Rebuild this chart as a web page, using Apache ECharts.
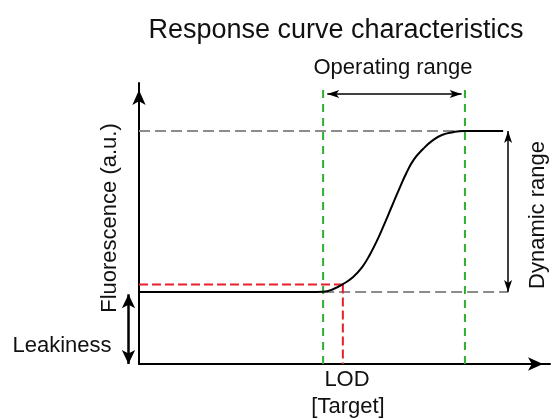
<!DOCTYPE html>
<html>
<head>
<meta charset="utf-8">
<script src="https://cdn.jsdelivr.net/npm/echarts@6/dist/echarts.min.js"></script>
<style>
  html, body { margin: 0; padding: 0; background: #fff; }
  #chart { width: 553px; height: 419px; }
</style>
</head>
<body>
<div id="chart"></div>
<script>
// response curve (arbitrary units, x: [Target], y: fluorescence)
const curveX = [0, 4.16, 4.48, 4.72, 4.96, 5.21, 5.43, 5.62, 5.82, 5.99, 6.16, 6.33, 6.50, 6.69, 6.91, 7.13, 7.37, 7.64, 7.91, 8.86];
const curveY = [2.56, 2.56, 2.57, 2.66, 2.84, 3.10, 3.45, 3.90, 4.48, 5.05, 5.64, 6.22, 6.78, 7.28, 7.65, 7.94, 8.15, 8.25, 8.29, 8.29];

// guide values
const baseline = 2.56;     // leakiness level
const plateau = 8.29;      // saturation level
const lod = 4.96;          // limit of detection
const lodSignal = 2.83;
const opRange = [4.48, 7.93];
const guideTop = 9.79;
const opArrowY = 9.61;
const dynArrowX = 8.98;

const font = '"Liberation Sans", Arial, sans-serif';

let dashed = (name, pts, color, dash) => ({
	name: name,
	type: 'line',
	data: pts,
	symbol: 'none',
	silent: true,
	clip: false,
	lineStyle: { color: color, width: 2, type: dash }
});

// double headed arrow between two data points
let arrow = (from, to) => [{ coord: from }, { coord: to }];

let arrowStyle = (head, width) => ({
	silent: true,
	animation: false,
	symbol: ['arrow', 'arrow'],
	symbolSize: head,
	lineStyle: { color: '#000', width: width, type: 'solid' },
	label: { show: false },
	emphasis: { disabled: true }
});

let txt = (text, x, y, size, rot) => ({
	type: 'text',
	x: x,
	y: y,
	rotation: rot || 0,
	style: {
		text: text,
		font: size + 'px ' + font,
		fill: '#111',
		textAlign: 'center',
		textVerticalAlign: 'middle',
		align: 'center',
		verticalAlign: 'middle'
	}
});

let hiddenAxis = (idx, max) => ({
	type: 'value', gridIndex: idx, min: 0, max: max, show: false
});

let chart = echarts.init(document.getElementById('chart'), null, { renderer: 'canvas' });

let option = {
	animation: false,
	backgroundColor: '#fff',
	grid: [
		{ left: 139, right: 3, top: 83, bottom: 55, containLabel: false },
		// narrow strip left of the y axis for the leakiness arrow
		{ left: 118.5, width: 20, top: 83, bottom: 55, containLabel: false }
	],
	xAxis: [{
		type: 'value', min: 0, max: 10,
		axisLine: { show: true, symbol: ['none', 'arrow'], symbolSize: [10, 15], symbolOffset: [0, -7], lineStyle: { color: '#000', width: 2 } },
		axisTick: { show: false }, axisLabel: { show: false }, splitLine: { show: false }
	}, hiddenAxis(1, 1)],
	yAxis: [{
		type: 'value', min: 0, max: 10,
		axisLine: { show: true, symbol: ['none', 'arrow'], symbolSize: [10, 15], symbolOffset: [0, -7], lineStyle: { color: '#000', width: 2 } },
		axisTick: { show: false }, axisLabel: { show: false }, splitLine: { show: false }
	}, hiddenAxis(1, 10)],
	series: [
		dashed('top', [[0, plateau], [opRange[1], plateau]], '#8c8c8c', [11, 5]),
		dashed('bottom', [[opRange[0], baseline], [dynArrowX, baseline]], '#8c8c8c', [11, 5]),
		dashed('lodH', [[0, lodSignal], [lod, lodSignal]], '#e8202a', [9, 4]),
		dashed('lodV', [[lod, lodSignal], [lod, 0]], '#e8202a', [9, 4]),
		dashed('opLow', [[opRange[0], 0], [opRange[0], guideTop]], '#2eae2e', [8, 6]),
		dashed('opHigh', [[opRange[1], 0], [opRange[1], guideTop]], '#2eae2e', [8, 6]),
		{
			name: 'response',
			type: 'line',
			data: curveX.map((x, i) => [x, curveY[i]]),
			symbol: 'none',
			smooth: 0.5,
			clip: false,
			lineStyle: { color: '#000', width: 2 },
			markLine: Object.assign(arrowStyle([6, 12], 1.5), {
				data: [
					arrow([opRange[0] + 0.1, opArrowY], [opRange[1] - 0.08, opArrowY]),
					arrow([dynArrowX, plateau], [dynArrowX, baseline])
				]
			})
		},
		{
			name: 'leakiness',
			type: 'line',
			xAxisIndex: 1,
			yAxisIndex: 1,
			data: [],
			symbol: 'none',
			markLine: Object.assign(arrowStyle([10, 14], 2.5), {
				data: [arrow([0.5, baseline - 0.08], [0.5, 0])]
			})
		}
	],
	graphic: [
		txt('Response curve characteristics', 336, 31, 27),
		txt('Operating range', 393, 68, 22),
		txt('Fluorescence (a.u.)', 110, 218, 22, Math.PI / 2),
		txt('Dynamic range', 538, 215, 22, Math.PI / 2),
		txt('Leakiness', 62, 346, 22),
		txt('LOD', 347, 380, 22),
		txt('[Target]', 348, 407, 22)
	]
};

chart.setOption(option);
</script>
</body>
</html>
